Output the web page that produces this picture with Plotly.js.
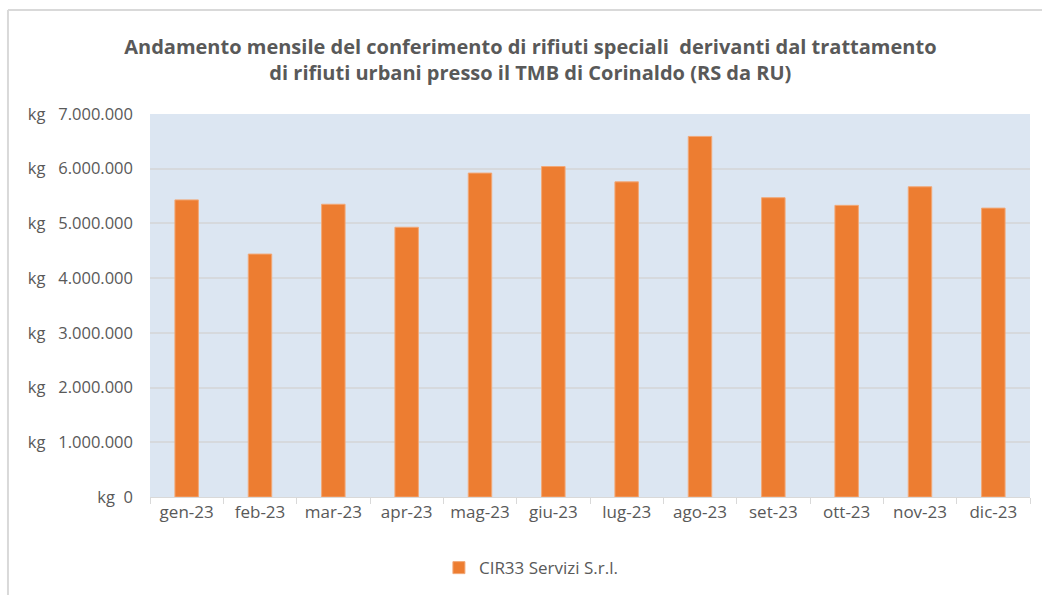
<!DOCTYPE html>
<html>
<head>
<meta charset="utf-8">
<script src="https://cdn.plot.ly/plotly-3.0.1.min.js"></script>
<style>html,body{margin:0;padding:0;background:#fff;}#chart{width:1042px;height:595px;}</style>
</head>
<body>
<div id="chart"></div>
<script>
const months = ["gen-23","feb-23","mar-23","apr-23","mag-23","giu-23","lug-23","ago-23","set-23","ott-23","nov-23","dic-23"];
const values = [5430000, 4440000, 5350000, 4930000, 5920000, 6040000, 5760000, 6590000, 5470000, 5330000, 5670000, 5280000];
const seriesName = "CIR33 Servizi S.r.l.";
const tickVals = [0, 1000000, 2000000, 3000000, 4000000, 5000000, 6000000, 7000000];
const NB = "\u00a0";
const tickText = ["kg" + NB + NB + "0", "kg" + NB + NB + NB + "1.000.000", "kg" + NB + NB + NB + "2.000.000", "kg" + NB + NB + NB + "3.000.000", "kg" + NB + NB + NB + "4.000.000", "kg" + NB + NB + NB + "5.000.000", "kg" + NB + NB + NB + "6.000.000", "kg" + NB + NB + NB + "7.000.000"];
const titleText = "<b>Andamento mensile del conferimento di rifiuti speciali  derivanti dal trattamento<br>di rifiuti urbani presso il TMB di Corinaldo (RS da RU)</b>";

const font = "'Open Sans', 'Noto Sans', sans-serif";

const trace = {
  type: "bar",
  x: months,
  y: values,
  name: seriesName,
  marker: { color: "#ed7d31", line: { color: "#f2a877", width: 1 } },
  showlegend: true,
  hoverinfo: "x+y"
};

const layout = {
  width: 1042,
  height: 595,
  margin: { l: 150, r: 12, t: 114, b: 98 },
  paper_bgcolor: "#ffffff",
  plot_bgcolor: "#dce6f2",
  font: { family: font, color: "#595959", size: 17 },
  title: {
    text: titleText,
    font: { family: font, size: 20, color: "#595959" },
    x: 0.509, xref: "container", xanchor: "center",
    y: 0.91, yref: "container", yanchor: "top"
  },
  bargap: 0.68,
  xaxis: {
    type: "category",
    showgrid: false,
    showline: true,
    linecolor: "#d9d9d9",
    linewidth: 1,
    ticks: "outside",
    tickson: "boundaries",
    ticklen: 6,
    tickcolor: "#d9d9d9",
    tickfont: { family: font, size: 17, color: "#595959" },
    fixedrange: true
  },
  yaxis: {
    range: [0, 7000000],
    tickmode: "array",
    tickvals: tickVals,
    ticktext: tickText,
    showgrid: true,
    gridcolor: "#d6d9dd",
    gridwidth: 2,
    zeroline: false,
    showline: false,
    ticks: "",
    ticklabelstandoff: 16,
    tickfont: { family: font, size: 16.5, color: "#595959" },
    fixedrange: true
  },
  showlegend: true,
  legend: {
    orientation: "h",
    x: 0.51, xref: "container", xanchor: "center",
    y: 0.015, yref: "container", yanchor: "bottom",
    font: { family: font, size: 17, color: "#595959" },
    itemwidth: 30
  },
  shapes: [
    { type: "line", xref: "paper", yref: "paper", x0: -0.1614, x1: 1.02, y0: 1.2715, y1: 1.2715,
      line: { color: "#d9d9d9", width: 2 }, layer: "below" },
    { type: "line", xref: "paper", yref: "paper", x0: -0.1614, x1: -0.1614, y0: 1.2715, y1: -0.27,
      line: { color: "#d9d9d9", width: 2 }, layer: "below" }
  ]
};

Plotly.newPlot("chart", [trace], layout, { displayModeBar: false, staticPlot: true });
</script>
</body>
</html>
